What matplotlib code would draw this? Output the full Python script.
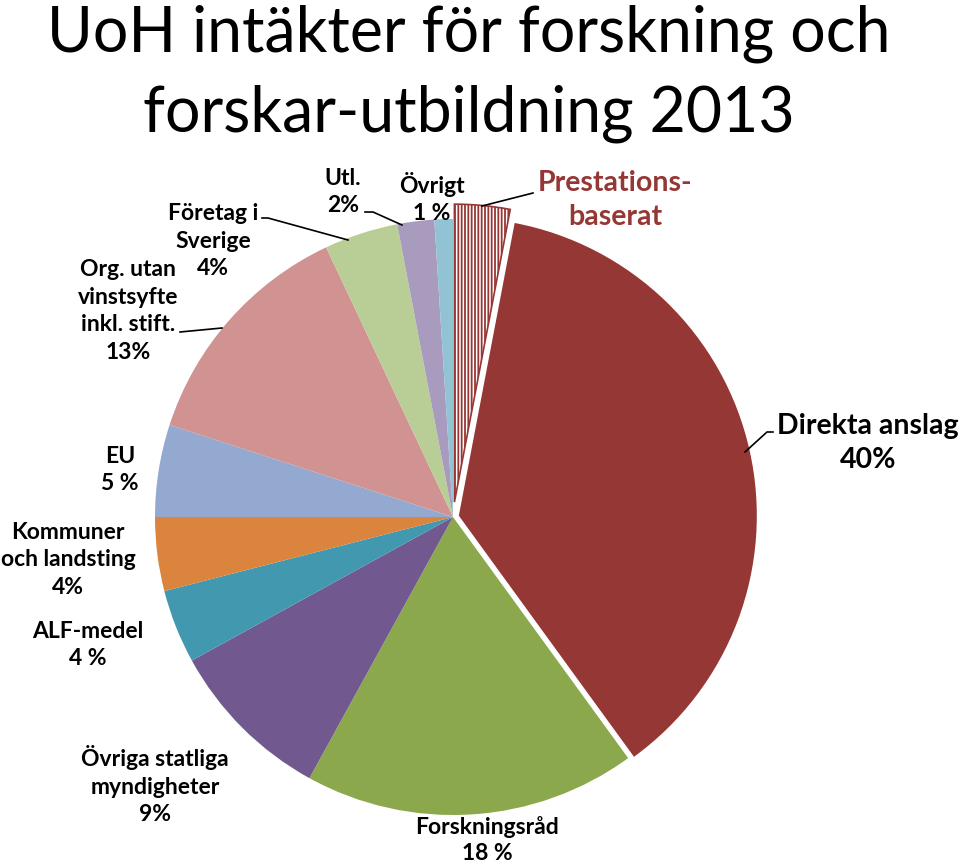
import matplotlib
matplotlib.use("Agg")
import matplotlib.pyplot as plt

plt.rcParams['font.family'] = ['Lato', 'DejaVu Sans']
plt.rcParams['hatch.linewidth'] = 1.3

# Data (clockwise from top)
categories = ["Prestationsbaserat", "Direkta anslag", "Forskningsråd",
              "Övriga statliga myndigheter", "ALF-medel", "Kommuner och landsting",
              "EU", "Org. utan vinstsyfte inkl. stift.", "Företag i Sverige",
              "Utl.", "Övrigt"]
values = [3, 37, 18, 9, 4, 4, 5, 13, 4, 2, 1]
colors = ["white", "#953735", "#8BA84C", "#71598F", "#4198AF", "#DB843D",
          "#93A9CF", "#D09392", "#B9CD96", "#A99BBD", "#92C3D4"]
explode = [0.05, 0.02, 0, 0, 0, 0, 0, 0, 0, 0, 0]

label_texts = ["Prestations-\nbaserat", "Direkta anslag\n40%", "Forskningsråd\n18 %",
               "Övriga statliga\nmyndigheter\n9%", "ALF-medel\n4 %",
               "Kommuner\noch landsting\n4%", "EU\n5 %",
               "Org. utan\nvinstsyfte\ninkl. stift.\n13%", "Företag i\nSverige\n4%",
               "Utl.\n2%", "Övrigt\n1 %"]
title = "UoH intäkter för forskning och\nforskar-utbildning 2013"

W, H = 960, 867
fig = plt.figure(figsize=(W / 100, H / 100), dpi=100)

cx, cy, R = 453, 517, 298
pad = 1.15
size = 2 * R * pad
ax = fig.add_axes([(cx - size / 2) / W, (H - cy - size / 2) / H, size / W, size / H])

wedges, _ = ax.pie(values, colors=colors, explode=explode, startangle=90,
                   counterclock=False, wedgeprops=dict(linewidth=0))
ax.set_xlim(-pad, pad)
ax.set_ylim(-pad, pad)
ax.set_aspect('equal')
ax.axis('off')
w0 = wedges[0]
w0.set_facecolor("white")
w0.set_edgecolor("#953735")
w0.set_linewidth(1.2)
w0.set_hatch("|||||")

ov = fig.add_axes([0, 0, 1, 1])
ov.set_xlim(0, W)
ov.set_ylim(H, 0)
ov.axis('off')

ov.text(469, 74, title, ha='center', va='center', fontsize=45, linespacing=1.45, color='black')

lab_pos = [(615, 200, 20.5, "#953735", 1.4), (868, 443, 20.5, "black", 1.4),
           (487, 840, 16.5, "black", 1.3),
           (155, 785, 16.5, "black", 1.4), (88, 645, 16.5, "black", 1.4),
           (68, 560, 16.5, "black", 1.4), (120, 470, 16.5, "black", 1.4),
           (128, 311, 16.5, "black", 1.4), (213, 241, 16.5, "black", 1.4),
           (343, 192, 16.5, "black", 1.4), (432, 198, 16.5, "black", 1.4)]
for txt, (x, y, fs, c, ls) in zip(label_texts, lab_pos):
    ov.text(x, y, txt, ha='center', va='center', fontsize=fs, fontweight='bold',
            color=c, linespacing=ls)

leaders = [
    [(533, 193), (482, 206)],
    [(773, 432), (767, 432), (745, 452)],
    [(180, 332), (222, 328)],
    [(262, 218), (268, 218), (348, 240)],
    [(365, 212), (373, 212), (402, 225)],
]
for pts in leaders:
    xs, ys = zip(*pts)
    ov.plot(xs, ys, color='black', linewidth=1.2)

fig.savefig("out.png", dpi=100)
